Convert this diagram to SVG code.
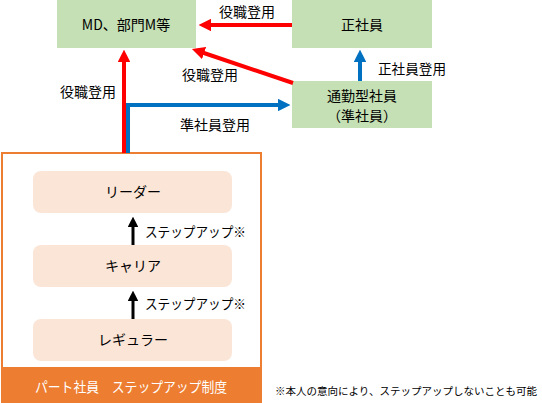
<svg xmlns="http://www.w3.org/2000/svg" width="542" height="403" viewBox="0 0 542 403">
<style>
text{font-family:"Noto Sans CJK JP","Liberation Sans",sans-serif;font-size:14px;fill:#000}
.c{text-anchor:middle}
.g{fill:#c5e0b4}
.p{fill:#fbe5d6}
.r{stroke:#ff0000;stroke-width:4;fill:none}
.b{stroke:#0070c0;stroke-width:4;fill:none}
.k{stroke:#000;stroke-width:3;fill:none}
</style>
<defs>
<marker id="ar" viewBox="0 0 10 10" refX="5" refY="5" markerWidth="3.2" markerHeight="3.2" orient="auto" markerUnits="strokeWidth"><path d="M0,0L10,5L0,10z" fill="#ff0000"/></marker>
<marker id="ab" viewBox="0 0 10 10" refX="5" refY="5" markerWidth="3.2" markerHeight="3.2" orient="auto" markerUnits="strokeWidth"><path d="M0,0L10,5L0,10z" fill="#0070c0"/></marker>
<marker id="ak" viewBox="0 0 10 10" refX="5" refY="5" markerWidth="3.6" markerHeight="3.6" orient="auto" markerUnits="strokeWidth"><path d="M0,0L10,5L0,10z" fill="#000"/></marker>
</defs>
<g id="part-system">
<rect x="2" y="153" width="259" height="248" fill="#fff" stroke="#ed7d31" stroke-width="2"/>
<rect x="1" y="367" width="261" height="36" fill="#ed7d31"/>
<text x="35" y="392" textLength="192" lengthAdjust="spacingAndGlyphs" style="fill:#fff">パート社員　ステップアップ制度</text>
</g>
<g id="md"><rect class="g" x="57" y="0" width="139" height="48"/><text class="c" x="126" y="30">MD、部門M等</text></g>
<g id="seishain"><rect class="g" x="292" y="0" width="140" height="48"/><text class="c" x="362" y="30">正社員</text></g>
<g id="tsukin"><rect class="g" x="292" y="81" width="140" height="47"/><text class="c" x="362" y="101">通勤型社員</text><text class="c" x="362" y="121">（準社員）</text></g>
<g id="leader"><rect class="p" x="33" y="171" width="199" height="42" rx="8"/><text class="c" x="133" y="197">リーダー</text></g>
<g id="career"><rect class="p" x="33" y="245" width="199" height="42" rx="8"/><text class="c" x="133" y="271">キャリア</text></g>
<g id="regular"><rect class="p" x="33" y="319" width="199" height="42" rx="8"/><text class="c" x="133" y="345">レギュラー</text></g>
<g id="connectors">
<path class="r" d="M292,25H205" marker-end="url(#ar)"/>
<path class="r" d="M293,83L198,51" marker-end="url(#ar)"/>
<path class="r" d="M124,153V56" marker-end="url(#ar)"/>
<path class="b" d="M360,81V56" marker-end="url(#ab)"/>
<path class="b" d="M128,153V105H284" marker-end="url(#ab)"/>
<path class="k" d="M133,245V222" marker-end="url(#ak)"/>
<path class="k" d="M133,319V296" marker-end="url(#ak)"/>
</g>
<g id="labels">
<text x="219" y="17">役職登用</text>
<text x="182" y="80">役職登用</text>
<text x="60" y="97">役職登用</text>
<text x="180" y="130" textLength="70" lengthAdjust="spacingAndGlyphs">準社員登用</text>
<text x="378" y="74" textLength="68" lengthAdjust="spacingAndGlyphs">正社員登用</text>
<text x="145" y="237" textLength="101" lengthAdjust="spacingAndGlyphs">ステップアップ※</text>
<text x="145" y="309" textLength="101" lengthAdjust="spacingAndGlyphs">ステップアップ※</text>
<text x="275" y="395" textLength="262" lengthAdjust="spacingAndGlyphs" style="font-size:10.6px">※本人の意向により、ステップアップしないことも可能</text>
</g>
</svg>
